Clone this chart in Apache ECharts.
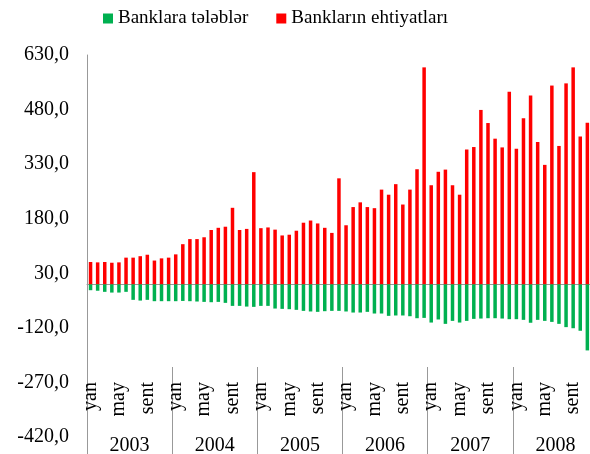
<!DOCTYPE html>
<html>
<head>
<meta charset="utf-8">
<title>Banklara tələblər / Bankların ehtiyatları</title>
<script src="https://cdn.jsdelivr.net/npm/echarts@6.0.0/dist/echarts.min.js"></script>
<style>
  html, body { margin: 0; padding: 0; background: #fff; }
  #chart { width: 590px; height: 454px; }
</style>
</head>
<body>
<div id="chart"></div>
<script>
// month labels (only yan / may / sent are shown on the axis)
var monthNames = ['yan', 'fev', 'mar', 'apr', 'may', 'iyn', 'iyl', 'avq', 'sent', 'okt', 'noy', 'dek']
var years = ['2003', '2004', '2005', '2006', '2007', '2008']

// Bankların ehtiyatları (red), yan 2003 - noy 2008
var reserves = [
  61, 60, 61, 59, 60, 73, 73, 77, 81, 65, 71, 73,
  82, 110, 124, 124, 129, 149, 155, 158, 210, 149, 152, 308,
  154, 156, 150, 134, 136, 147, 169, 175, 167, 155, 141, 291,
  162, 212, 225, 212, 209, 260, 246, 275, 219, 260, 316, 596,
  272, 309, 315, 272, 246, 370, 377, 479, 443, 400, 376, 529,
  372, 456, 519, 391, 328, 546, 380, 552, 596, 406, 444
]

// Banklara tələblər (green)
var claims = [
  -16.5, -18, -21, -23, -23, -21, -43, -45, -43, -46.7, -46.7, -46.7,
  -46.7, -46, -46.7, -47.6, -48.6, -49.5, -48.6, -51.3, -59.6, -59.6, -61.5, -62.3,
  -59.6, -59.6, -66.9, -67.8, -68.7, -70.5, -73.3, -75, -76, -74.2, -73.3, -73.3,
  -75, -77.9, -77.9, -76, -80.6, -80.6, -87, -86, -86, -88, -93.5, -92.6,
  -105.4, -97, -109, -100.8, -105.4, -100.8, -95.3, -94.4, -93.5, -93.5, -94.4, -96.2,
  -96.2, -98, -106, -98, -100.8, -103.6, -109, -118, -121, -128, -182
]

// one category per month of every year
var months = []
years.forEach(function (y) {
  monthNames.forEach(function (m) { months.push(m) })
})

var font = 'Liberation Serif, Times New Roman, serif'
var lineColor = '#999999'

var chart = echarts.init(document.getElementById('chart'), null, { renderer: 'canvas' })

chart.setOption({
  animation: false,
  backgroundColor: '#fff',
  legend: {
    left: 103,
    top: 9,
    padding: 0,
    itemWidth: 10,
    itemHeight: 10,
    itemGap: 28,
    icon: 'rect',
    textStyle: { fontFamily: font, fontSize: 19, color: '#000' },
    data: ['Banklara tələblər', 'Bankların ehtiyatları']
  },
  grid: {
    left: 87,
    width: 511,   // the last month runs past the picture's right edge
    top: 55,
    height: 382,
    outerBoundsMode: 'none'
  },
  xAxis: [
    {
      type: 'category',
      data: months,
      offset: -70,   // axis crosses the value axis at about -230
      axisLine: { show: true, lineStyle: { color: lineColor, width: 1 } },
      axisTick: { show: false },
      axisLabel: {
        interval: function (i) { return i % 4 === 0 },
        rotate: 90,
        margin: 15,
        fontFamily: font,
        fontSize: 20,
        color: '#000'
      },
      splitLine: { show: false }
    },
    {
      type: 'category',
      data: years,
      position: 'bottom',
      offset: -70,
      axisLine: { show: false },
      axisTick: { show: true, interval: 0, length: 90, lineStyle: { color: lineColor, width: 1 } },
      axisLabel: {
        interval: 0,
        margin: 69,
        fontFamily: font,
        fontSize: 20,
        color: '#000'
      },
      splitLine: { show: false }
    }
  ],
  yAxis: {
    type: 'value',
    min: -420,
    max: 630,
    interval: 150,
    axisLine: { show: true, lineStyle: { color: lineColor, width: 1 } },
    axisTick: { show: false },
    splitLine: { show: false },
    axisLabel: {
      margin: 18,
      fontFamily: font,
      fontSize: 20,
      color: '#000',
      formatter: function (v) { return v.toFixed(1).replace('.', ',') }
    }
  },
  series: [
    {
      name: 'Banklara tələblər',
      type: 'bar',
      xAxisIndex: 0,
      data: claims,
      barWidth: 3.5,
      barGap: '-100%',
      itemStyle: { color: '#00B050' }
    },
    {
      name: 'Bankların ehtiyatları',
      type: 'bar',
      xAxisIndex: 0,
      data: reserves,
      barWidth: 3.5,
      barGap: '-100%',
      itemStyle: { color: '#FF0000' }
    }
  ]
})
</script>
</body>
</html>
